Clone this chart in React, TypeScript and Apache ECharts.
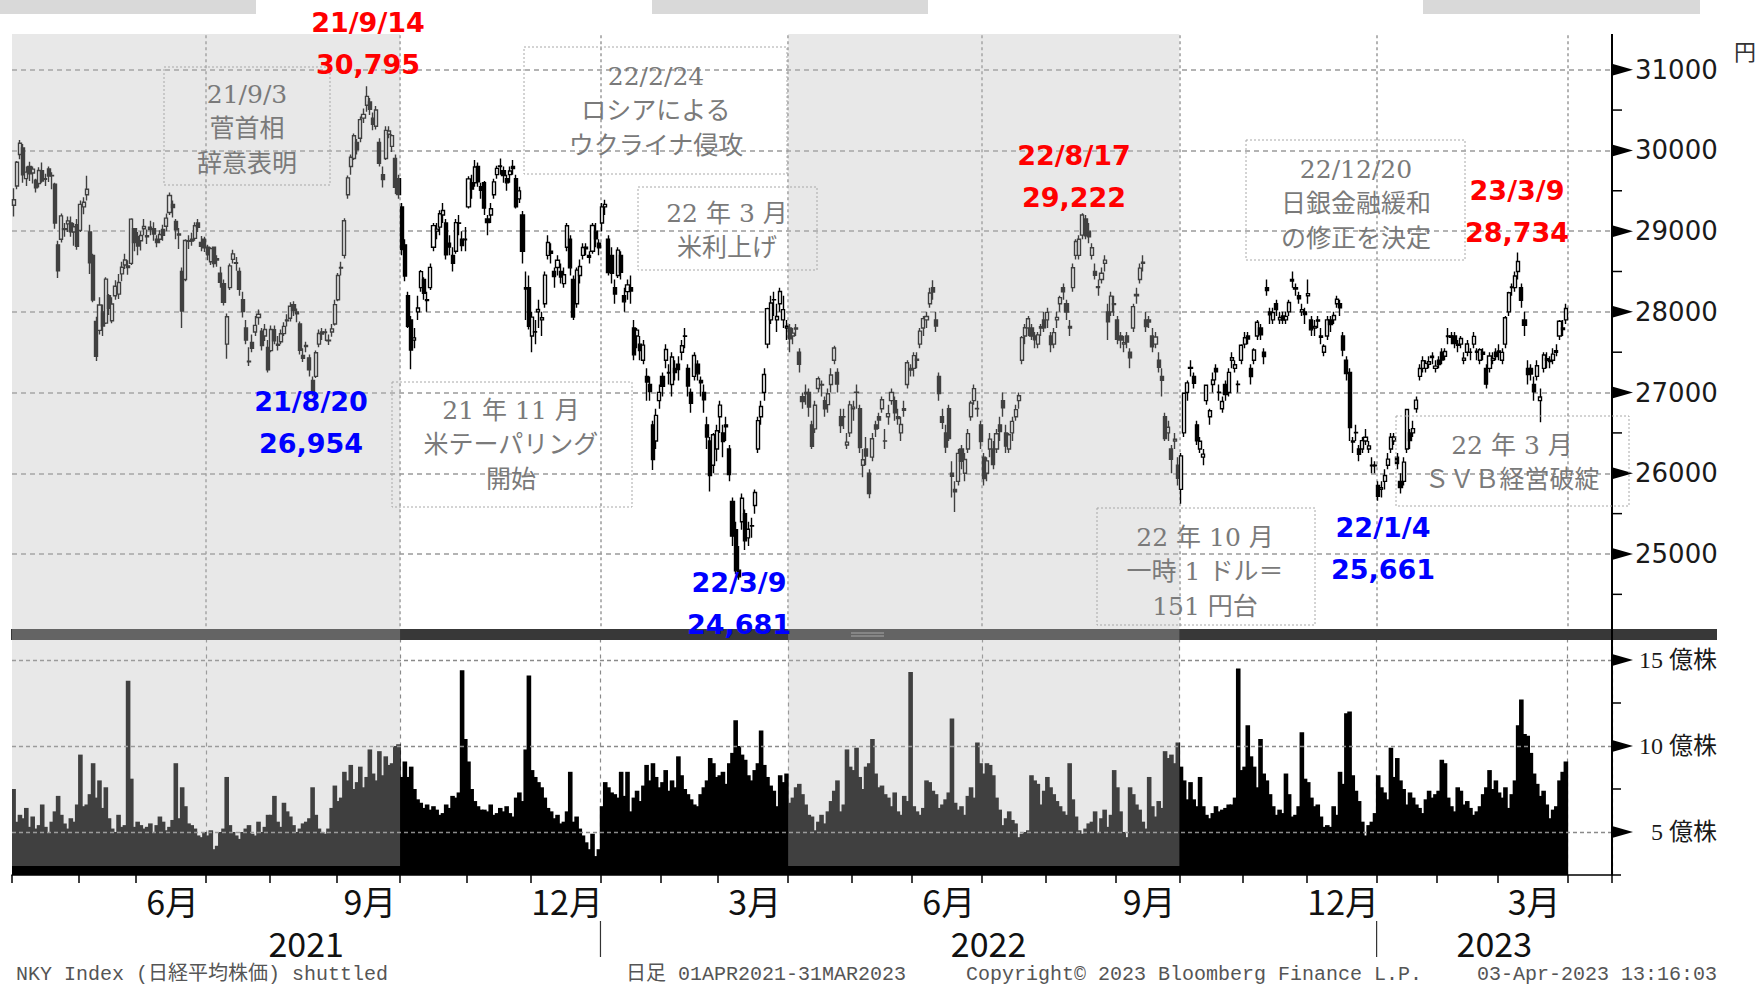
import React, { useEffect, useRef } from 'react';
import * as echarts from 'echarts';

// TSE holidays falling on weekdays (Apr 2021 - Mar 2023)
const HOLIDAYS = [
  '2021-04-29', '2021-05-03', '2021-05-04', '2021-05-05', '2021-07-22', '2021-07-23', '2021-08-09',
  '2021-09-20', '2021-09-23', '2021-11-03', '2021-11-23', '2021-12-31', '2022-01-03', '2022-01-10',
  '2022-02-11', '2022-02-23', '2022-03-21', '2022-04-29', '2022-05-03', '2022-05-04', '2022-05-05',
  '2022-07-18', '2022-08-11', '2022-09-19', '2022-09-23', '2022-10-10', '2022-11-03', '2022-11-23',
  '2023-01-02', '2023-01-03', '2023-01-09', '2023-02-23', '2023-03-21',
];

// Daily candles per month: [open, close, low, high] (yen)
const c2104 = [[29320,29388,29180,29530],[29560,29854,29520,29870],[29950,30089,29890,30130],[30030,29697,29600,30080],[29650,29731,29560,29800],[29800,29709,29620,29860],[29720,29768,29590,29800],[29630,29538,29480,29650],[29590,29752,29540,29790],[29750,29621,29600,29850],[29650,29643,29560,29710],[29770,29683,29610,29800],[29690,29686,29520,29730],[29580,29101,29030,29600],[28830,28509,28420,28880],[28900,29189,28860,29220],[29030,29021,28930,29100],[29090,29127,28990,29180],[29100,28992,28930,29180],[28990,29054,28820,29100],[29080,28813,28770,29150]];
const c2105 = [[29010,29331,28990,29380],[29300,29358,29210,29420],[29450,29518,29380,29685],[28990,28608,28470,29080],[28700,28147,28120,28720],[27880,27448,27390,27940],[27770,28084,27720,28180],[28000,27824,27700,28090],[27860,28406,27850,28430],[28200,28044,27960,28220],[27890,28098,27860,28180],[28200,28317,28150,28390],[28220,28364,28160,28470],[28470,28553,28380,28620],[28580,28642,28530,28720],[28570,28549,28460,28640],[28600,29149,28580,29160],[29030,28860,28750,29040]];
const c2106 = [[28930,28815,28700,28990],[28880,28946,28760,29000],[29030,29058,28950,29150],[28930,28942,28840,29020],[29050,29019,28950,29130],[29030,28964,28880,29110],[28900,28860,28800,28950],[28900,28958,28850,29010],[29020,28949,28880,29080],[29060,29161,29000,29220],[29230,29441,29200,29480],[29330,29292,29170,29380],[29120,29018,28900,29150],[28950,28964,28780,29040],[28500,28010,27800,28550],[28400,28884,28380,28900],[28880,28874,28780,28950],[28900,28876,28820,28980],[28910,29066,28880,29110],[29100,29048,28990,29150],[28860,28812,28750,28940],[28900,28792,28740,28930]];
const c2107 = [[28800,28707,28640,28830],[28620,28783,28580,28800],[28800,28598,28550,28810],[28660,28643,28560,28700],[28480,28366,28300,28560],[28350,28118,28080,28400],[27600,27940,27420,27980],[28300,28569,28270,28600],[28650,28718,28600,28770],[28600,28608,28510,28680],[28500,28279,28200,28550],[28150,28003,27930,28250],[27800,27652,27600,27900],[27380,27388,27330,27560],[27620,27548,27500,27720],[27750,27833,27700,27950],[27930,27970,27840,28030],[27760,27581,27520,27800],[27700,27782,27640,27850],[27560,27283,27250,27650]];
const c2108 = [[27520,27781,27500,27830],[27780,27642,27600,27830],[27600,27584,27520,27700],[27630,27728,27600,27780],[27730,27820,27700,27870],[27900,27888,27820,27970],[27920,28070,27880,28120],[28090,28015,27950,28130],[28000,27977,27870,28040],[27850,27523,27470,27880],[27460,27424,27380,27550],[27570,27585,27500,27630],[27430,27281,27200,27470],[27150,27013,26954,27200],[27200,27494,27180,27520],[27600,27732,27560,27780],[27750,27724,27650,27800],[27750,27742,27640,27790],[27650,27641,27590,27720],[27750,27789,27690,27850],[27850,28089,27830,28150]];
const c2109 = [[28150,28451,28130,28480],[28550,28543,28450,28620],[28700,29128,28660,29160],[29450,29660,29400,29690],[29800,29916,29700,29950],[29900,30181,29880,30210],[30100,30008,29950,30140],[30150,30381,30100,30420],[30400,30447,30340,30520],[30560,30670,30480,30795],[30600,30511,30440,30650],[30400,30323,30250,30470],[30300,30500,30260,30550],[30100,29840,29800,30150],[29700,29639,29540,29800],[29900,30248,29880,30300],[30200,30240,30150,30300],[30050,30183,29980,30200],[29900,29544,29460,29950],[29650,29452,29400,29700]];
const c2110 = [[29300,28771,28700,29350],[28830,28444,28380,28900],[28200,27822,27800,28250],[27900,27528,27290,27950],[27650,27678,27550,27800],[28000,28048,27900,28200],[28300,28498,28250,28520],[28400,28230,28150,28430],[28150,28140,28000,28250],[28300,28551,28270,28600],[28800,29068,28750,29100],[29000,29025,28900,29100],[29050,29215,28950,29260],[29200,29255,29100,29350],[29100,28708,28650,29150],[28850,28804,28700,28950],[28700,28600,28500,28800],[28750,29106,28720,29150],[29100,29098,28950,29200],[28900,28820,28750,29000],[28900,28892,28750,29050]];
const c2111 = [[29300,29647,29280,29680],[29600,29520,29400,29700],[29600,29794,29550,29880],[29800,29611,29550,29850],[29550,29507,29400,29600],[29600,29285,29200,29620],[29150,29106,28950,29200],[29200,29278,29100,29350],[29450,29610,29400,29650],[29700,29777,29650,29810],[29800,29808,29700,29900],[29750,29688,29600,29800],[29650,29598,29500,29700],[29700,29745,29600,29800],[29800,29774,29700,29880],[29650,29302,29280,29700],[29400,29499,29350,29550],[29200,28751,28600,29250],[28300,28283,27900,28500],[28300,27822,27780,28450]];
const c2112 = [[27700,27935,27500,28000],[27750,27753,27600,27900],[28000,28029,27800,28150],[27900,27927,27700,28000],[28100,28455,28050,28500],[28700,28860,28650,28950],[28750,28725,28600,28850],[28500,28437,28300,28550],[28550,28640,28450,28700],[28500,28432,28350,28600],[28350,28459,28300,28550],[28800,29066,28750,29100],[28900,28545,28450,28950],[28400,27937,27900,28450],[28100,28517,28050,28550],[28450,28562,28350,28650],[28700,28798,28650,28850],[28800,28782,28700,28850],[28700,28676,28600,28750],[28750,29069,28720,29100],[29000,28906,28800,29100],[28850,28792,28700,28900]];
const c2201 = [[29100,29301,29000,29350],[29300,29332,29200,29390],[28900,28487,28450,28950],[28700,28479,28350,28800],[28300,28222,28100,28400],[28450,28765,28420,28800],[28700,28489,28400,28750],[28200,28124,28000,28300],[28250,28334,28150,28400],[28300,28257,28100,28450],[27800,27467,27400,27900],[27700,27773,27550,27800],[27600,27522,27400,27700],[27400,27588,27350,27650],[27200,27131,26900,27300],[27100,27011,26900,27200],[26600,26170,26040,26650],[26400,26717,26300,26800],[26900,27002,26800,27100]];
const c2202 = [[27200,27078,26950,27250],[27400,27533,27300,27600],[27250,27241,27100,27350],[27100,27440,26950,27500],[27300,27249,27150,27400],[27350,27284,27150,27450],[27500,27580,27400,27650],[27700,27696,27550,27800],[27300,27080,26950,27350],[27000,26866,26750,27050],[27200,27460,27150,27500],[27350,27232,27150,27400],[27150,27122,26950,27200],[27000,26911,26750,27100],[26600,26450,26300,26700],[26400,25971,25775,26450],[26100,26477,26000,26500],[26300,26527,26150,26600]];
const c2203 = [[26700,26844,26500,26900],[26500,26393,26200,26600],[26600,26577,26400,26700],[26300,25985,25900,26350],[25650,25221,25100,25700],[25300,24791,24750,25400],[24800,24717,24681,25100],[25400,25690,25300,25750],[25500,25163,25050,25550],[25200,25307,25100,25400],[25350,25346,25200,25450],[25600,25762,25500,25800],[26300,26652,26250,26700],[26700,26827,26600,26900],[27000,27224,26900,27300],[27600,28040,27550,28050],[27900,28110,27850,28200],[28150,28149,27950,28250],[27900,27943,27750,28100],[28100,28252,28000,28300],[27900,28027,27800,28200],[27800,27821,27650,27900]];
const c2204 = [[27800,27666,27500,27850],[27700,27736,27600,27800],[27800,27787,27700,27850],[27500,27350,27250,27550],[26950,26889,26800,27000],[27000,26985,26850,27100],[27000,26821,26700,27050],[26600,26335,26300,26650],[26550,26843,26500,26900],[27050,27172,27000,27200],[27100,27093,26950,27150],[26900,26800,26700,26950],[26850,26985,26750,27050],[27100,27218,27000,27300],[27400,27553,27350,27580],[27250,27105,27000,27300],[26700,26590,26500,26800],[26700,26700,26550,26800],[26350,26386,26300,26500],[26500,26848,26450,26900]];
const c2205 = [[26800,26819,26650,26900],[27000,27003,26800,27100],[26800,26319,26250,26850],[26100,26167,25950,26300],[26300,26213,26100,26450],[26000,25748,25690,26050],[26200,26427,26150,26500],[26600,26547,26450,26650],[26700,26659,26550,26750],[26800,26911,26750,26950],[26400,26402,26300,26550],[26700,26739,26600,26850],[26900,27001,26850,27050],[26900,26748,26650,26950],[26700,26677,26600,26800],[26500,26604,26400,26700],[26800,26781,26700,26900],[27100,27369,27050,27400],[27300,27279,27200,27350]];
const c2206 = [[27300,27457,27200,27500],[27400,27413,27300,27500],[27600,27761,27550,27800],[27800,27916,27700,27950],[27900,27943,27800,28000],[28100,28234,28050,28300],[28300,28246,28150,28390],[27900,27824,27750,28000],[27200,26987,26900,27250],[26700,26630,26550,26800],[26500,26326,26250,26600],[26800,26431,26400,26850],[26000,25963,25700,26150],[25800,25771,25520,25900],[25900,26246,25850,26300],[26300,26149,26050,26350],[26000,26171,25900,26250],[26300,26491,26250,26550],[26700,26871,26650,26900],[26900,27049,26850,27100],[26800,26804,26700,26900],[26600,26393,26300,26650]];
const c2207 = [[26200,25935,25850,26250],[26000,26153,25900,26200],[26300,26423,26200,26500],[26300,26107,26050,26400],[26300,26490,26250,26550],[26600,26517,26400,26700],[26900,26812,26700,27000],[26500,26336,26250,26600],[26300,26478,26250,26500],[26500,26643,26400,26700],[26700,26788,26650,26850],[26900,26961,26800,27000],[27400,27680,27350,27700],[27700,27803,27600,27850],[27800,27915,27700,27950],[27800,27699,27650,27850],[27700,27655,27550,27750],[27600,27715,27550,27750],[27800,27815,27700,27850],[27900,27801,27750,28000]];
const c2208 = [[27900,27993,27800,28050],[27700,27594,27500,27750],[27600,27742,27550,27800],[27900,27932,27800,28000],[28100,28176,28000,28200],[28300,28249,28150,28350],[28100,27999,27900,28150],[27800,27819,27700,27900],[28300,28547,28250,28600],[28700,28872,28650,28900],[28700,28900,28650,28950],[28950,29200,28900,29222],[29150,28942,28900,29200],[29000,28930,28850,29100],[28700,28794,28650,28850],[28500,28452,28400,28600],[28300,28313,28200,28400],[28400,28479,28350,28550],[28600,28641,28500,28700],[28000,27878,27650,28100],[28000,28195,27950,28250],[28100,28091,27950,28200]];
const c2209 = [[27900,27661,27600,27950],[27700,27650,27550,27750],[27600,27619,27500,27700],[27700,27626,27550,27750],[27500,27430,27300,27550],[27800,28065,27750,28100],[28200,28214,28100,28300],[28400,28542,28350,28600],[28600,28614,28500,28700],[27900,27818,27750,28000],[27900,27875,27800,27950],[27700,27567,27500,27800],[27600,27688,27550,27750],[27400,27313,27250,27500],[27200,27153,26950,27300],[26700,26431,26400,26750],[26500,26571,26400,26650],[26300,26173,26000,26350],[26400,26422,26300,26500],[26100,25937,25850,26200]];
const c2210 = [[25800,26215,25621,26250],[26500,26992,26450,27000],[27000,27120,26900,27150],[27300,27311,27200,27400],[27200,27116,27050,27250],[26600,26401,26350,26650],[26300,26397,26250,26450],[26200,26237,26100,26300],[26900,27090,26850,27100],[26700,26775,26600,26800],[27100,27156,27000,27250],[27300,27257,27150,27350],[27000,27006,26900,27100],[26800,26890,26750,26950],[27100,26974,26900,27150],[27000,27250,26950,27300],[27400,27431,27300,27500],[27300,27345,27250,27400],[27100,27105,27000,27150],[27400,27587,27350,27600]];
const c2211 = [[27600,27679,27550,27750],[27700,27663,27600,27750],[27300,27199,27100,27350],[27400,27527,27350,27550],[27700,27872,27650,27900],[27800,27716,27650,27850],[27500,27446,27350,27550],[28300,28264,28200,28400],[28000,27963,27850,28050],[27900,27990,27850,28050],[28100,28028,27950,28150],[27900,27930,27850,28000],[27950,27899,27850,28000],[27900,27944,27850,28000],[28000,28115,27950,28150],[28400,28383,28300,28500],[28300,28283,28200,28350],[28200,28162,28100,28250],[28000,28027,27950,28100],[28000,27968,27850,28050]];
const c2212 = [[28200,28226,28100,28400],[27900,27777,27700,27950],[27800,27820,27700,27900],[27900,27885,27800,27950],[27700,27686,27600,27800],[27500,27574,27450,27600],[27700,27901,27650,27950],[27900,27842,27750,27950],[27900,27954,27850,28000],[28100,28156,28050,28200],[28100,28051,27950,28150],[27700,27527,27450,27750],[27400,27237,27150,27450],[27250,26568,26400,27300],[26400,26387,26250,26450],[26500,26507,26400,26600],[26300,26235,26150,26350],[26300,26405,26250,26450],[26400,26447,26350,26550],[26300,26340,26250,26400],[26100,26093,26000,26200],[26100,26094,26000,26150]];
const c2301 = [[25850,25716,25661,25900],[25800,25820,25700,25900],[25900,25973,25800,26050],[26100,26175,26050,26250],[26300,26446,26250,26500],[26400,26449,26350,26500],[26200,26119,26050,26250],[25900,25822,25750,26000],[25900,26138,25850,26200],[26300,26791,26250,26800],[26500,26405,26300,26550],[26500,26553,26450,26650],[26800,26906,26750,26950],[27200,27299,27150,27350],[27300,27395,27250,27450],[27300,27362,27250,27400],[27350,27382,27300,27450],[27450,27433,27350,27500],[27300,27327,27250,27400]];
const c2302 = [[27400,27346,27300,27450],[27500,27402,27350,27550],[27450,27509,27400,27550],[27700,27694,27600,27800],[27700,27685,27600,27750],[27700,27606,27550,27750],[27600,27584,27500,27650],[27600,27670,27550,27700],[27400,27427,27350,27500],[27500,27602,27450,27650],[27500,27501,27400,27550],[27600,27696,27550,27750],[27500,27513,27400,27550],[27400,27531,27350,27550],[27500,27473,27400,27550],[27300,27104,27050,27350],[27300,27453,27250,27500],[27400,27423,27350,27500],[27500,27445,27400,27550]];
const c2303 = [[27500,27516,27400,27600],[27400,27498,27350,27550],[27600,27927,27550,27950],[28000,28237,27950,28250],[28300,28309,28200,28350],[28300,28444,28250,28500],[28500,28623,28400,28734],[28300,28143,28050,28350],[27900,27832,27700,28000],[27300,27222,27100,27400],[27300,27229,27150,27350],[27100,27010,26900,27200],[27200,27333,27150,27400],[26900,26945,26632,27050],[27300,27466,27250,27500],[27400,27419,27300,27500],[27400,27385,27300,27450],[27400,27476,27350,27550],[27500,27518,27450,27600],[27700,27883,27650,27900],[27800,27782,27700,27900],[27900,28041,27850,28100]];

// Daily volume per month (億株)
const v2104 = [7.5,5.6,6.0,5.8,6.4,5.3,5.9,5.2,5.4,6.6,5.3,5.0,5.6,6.2,7.1,6.0,5.5,5.2,5.8,5.6,6.6];
const v2105 = [9.5,6.5,6.6,7.2,9.0,7.0,8.0,6.4,7.6,5.8,5.2,5.0,6.0,5.3,5.4,13.8,8.1,5.3];
const v2106 = [5.6,5.4,5.2,5.3,5.5,5.0,5.4,5.9,5.6,5.1,5.3,5.7,9.0,5.8,7.6,6.5,5.5,5.4,5.2,4.8,4.7,5.0];
const v2107 = [4.8,5.1,4.0,4.2,5.0,5.2,8.2,5.4,5.0,4.8,4.6,5.0,5.2,5.4,4.9,4.8,5.6,5.0,5.3,6.0];
const v2108 = [6.0,7.1,5.6,5.3,6.7,6.2,5.9,5.4,5.0,5.2,5.5,5.6,5.8,7.6,6.0,5.2,5.0,4.9,5.2,6.4,7.7];
const v2109 = [6.8,7.0,8.5,8.0,8.9,7.5,7.9,8.8,7.6,8.2,9.8,8.4,8.0,9.7,8.3,9.4,8.9,9.0,10.0,10.1];
const v2110 = [8.2,9.1,8.2,8.8,7.5,6.9,6.7,6.4,6.6,6.3,6.5,6.3,6.0,6.1,6.6,6.4,7.1,7.0,7.3,14.4,10.4];
const v2111 = [9.1,7.5,6.8,6.5,6.3,6.3,6.2,6.6,6.0,6.1,6.4,6.2,6.5,6.1,5.9,7.0,7.3,6.8,9.8,14.1];
const v2112 = [8.6,8.2,7.9,7.6,7.0,6.4,6.2,5.8,6.0,5.5,5.6,6.2,8.5,5.6,5.9,5.2,4.8,4.4,4.0,4.9,3.6,4.0];
const v2201 = [6.5,7.9,7.6,7.3,7.2,7.0,8.5,7.1,8.5,6.2,7.0,7.4,6.8,7.7,8.9,8.0,9.0,8.2,7.6];
const v2202 = [7.9,8.6,7.4,8.0,7.6,9.4,8.3,7.5,7.2,6.9,6.6,6.5,7.2,7.6,8.0,9.3,9.0,8.2];
const v2203 = [8.3,8.5,7.8,9.0,9.6,11.5,10.0,9.5,9.2,8.3,8.0,8.6,9.0,10.9,8.9,8.2,7.7,7.4,6.5,8.3,7.9,8.4];
const v2204 = [6.7,7.0,7.6,7.8,7.2,6.6,6.0,5.9,5.1,5.6,6.0,5.5,6.2,6.8,7.4,8.0,6.2,6.6,9.8,8.8];
const v2205 = [8.6,9.9,8.2,7.5,8.8,9.0,10.4,8.4,7.6,7.7,7.2,7.0,6.5,7.3,6.2,6.0,7.1,6.8,14.3];
const v2206 = [6.5,6.2,6.0,6.4,8.0,7.9,7.4,7.2,6.4,6.6,6.9,7.3,11.6,6.7,6.3,6.5,6.0,7.1,7.6,7.0,10.2,9.0];
const v2207 = [8.4,9.0,8.9,8.3,7.0,6.3,5.4,5.8,6.2,5.7,5.5,4.7,4.9,5.0,5.1,8.3,8.0,7.8,6.6,7.4];
const v2208 = [8.2,7.6,7.2,6.8,6.5,6.2,6.0,9.0,6.9,5.9,5.1,4.9,5.2,5.5,5.6,6.2,5.0,5.8,6.3,5.3,6.0,8.6];
const v2209 = [7.6,6.2,5.0,4.7,7.6,7.2,6.6,6.3,5.6,5.2,8.2,6.5,5.9,6.8,6.4,9.7,9.3,9.5,9.0,10.2];
const v2210 = [8.8,8.0,6.9,7.9,6.9,6.5,8.2,6.5,6.0,5.8,6.1,6.5,6.2,6.3,6.4,6.6,6.6,7.0,14.5,8.6];
const v2211 = [8.8,11.2,9.4,8.8,7.6,10.4,8.4,8.0,7.2,6.5,6.0,6.3,6.1,8.4,7.2,5.9,6.0,6.5,10.8,8.1];
const v2212 = [7.9,7.0,6.5,6.6,5.9,5.3,5.4,5.3,6.5,6.0,8.5,7.8,11.9,12.0,8.3,7.4,6.8,5.6,4.8,5.4,5.6,6.1];
const v2301 = [8.3,7.6,7.3,6.9,9.9,8.2,9.3,8.0,7.5,6.6,7.3,7.0,6.6,6.4,6.1,6.9,7.4,7.0,7.2];
const v2302 = [7.4,9.2,9.0,7.0,6.5,6.2,7.6,7.4,6.6,6.8,6.4,6.0,6.2,6.5,7.2,7.6,8.6,7.5,8.0];
const v2303 = [7.3,7.0,7.6,6.4,7.2,8.0,11.2,12.7,10.7,10.6,9.6,8.4,7.8,7.1,7.4,6.6,5.8,6.3,6.5,8.0,8.5,9.1];

const CANDLE_MONTHS = [c2104,c2105,c2106,c2107,c2108,c2109,c2110,c2111,c2112,c2201,c2202,c2203,c2204,c2205,c2206,c2207,c2208,c2209,c2210,c2211,c2212,c2301,c2302,c2303];
const VOLUME_MONTHS = [v2104,v2105,v2106,v2107,v2108,v2109,v2110,v2111,v2112,v2201,v2202,v2203,v2204,v2205,v2206,v2207,v2208,v2209,v2210,v2211,v2212,v2301,v2302,v2303];

// Axis tick labels
const PRICE_LABELS = [25000, 26000, 27000, 28000, 29000, 30000, 31000];
const PRICE_MINOR = [24500, 25500, 26500, 27500, 28500, 29500, 30500];
const VOLUME_LABELS = [5, 10, 15];

// Highlight labels (date, value)
const HIGHLIGHTS = [
  { date: '21/9/14', value: '30,795', color: '#ff0000', x: 368, y: 22 },
  { date: '21/8/20', value: '26,954', color: '#0000ff', x: 311, y: 401 },
  { date: '22/3/9', value: '24,681', color: '#0000ff', x: 739, y: 582 },
  { date: '22/8/17', value: '29,222', color: '#ff0000', x: 1074, y: 155 },
  { date: '22/1/4', value: '25,661', color: '#0000ff', x: 1383, y: 527 },
  { date: '23/3/9', value: '28,734', color: '#ff0000', x: 1517, y: 190 },
];

const NOTES = [
  { lines: ['21/9/3', '菅首相', '辞意表明'], box: [164, 67, 166, 118], cx: 247, y0: 94 },
  { lines: ['22/2/24', 'ロシアによる', 'ウクライナ侵攻'], box: [524, 47, 263, 127], cx: 656, y0: 76 },
  { lines: ['22 年 3 月', '米利上げ'], box: [638, 187, 179, 83], cx: 727, y0: 213 },
  { lines: ['21 年 11 月', '米テーパリング', '開始'], box: [392, 382, 240, 125], cx: 511, y0: 410 },
  { lines: ['22/12/20', '日銀金融緩和', 'の修正を決定'], box: [1246, 140, 219, 120], cx: 1356, y0: 169 },
  { lines: ['22 年 10 月', '一時 1 ドル＝', '151 円台'], box: [1097, 508, 218, 117], cx: 1205, y0: 537 },
  { lines: ['22 年 3 月', 'ＳＶＢ経営破綻'], box: [1396, 416, 233, 90], cx: 1512, y0: 445 },
];

function buildDates(): string[] {
  const out: string[] = [];
  const hol = new Set(HOLIDAYS);
  const d = new Date(Date.UTC(2021, 3, 1));
  const end = Date.UTC(2023, 2, 31);
  while (d.getTime() <= end) {
    const wd = d.getUTCDay();
    const s = d.toISOString().slice(0, 10);
    if (wd !== 0 && wd !== 6 && !hol.has(s)) out.push(s);
    d.setUTCDate(d.getUTCDate() + 1);
  }
  return out;
}

const SERIF_JP = "'DejaVu Serif', 'Noto Sans CJK JP', serif";
const VOL_FONT = "'Liberation Serif', 'Noto Sans CJK JP', serif";
const NARROW = "'Liberation Sans Narrow', 'Noto Sans CJK JP', sans-serif";
const MONO = "'Liberation Mono', 'Noto Sans CJK JP', monospace";

export default function App() {
  const ref = useRef<HTMLDivElement>(null);

  useEffect(() => {
    const chart = echarts.init(ref.current!, null, { renderer: 'svg' });
    const dates = buildDates();
    const PAD = 14;
    const cats = [...dates, ...Array.from({ length: PAD }, (_, k) => `pad${k}`)];
    const monthKey = (i: number) => (i < dates.length ? dates[i].slice(0, 7) : '2023-04');
    const monthStart = cats.map((_, i) => i === 0 || monthKey(i) !== monthKey(i - 1));
    const quarterStart = cats.map(
      (_, i) => i > 0 && monthStart[i] && ['01', '04', '07', '10'].includes(monthKey(i).slice(5))
    );
    const labelAt: Record<number, string> = {};
    let s = 0;
    for (let i = 1; i <= dates.length; i++) {
      if (i === dates.length || monthKey(i) !== monthKey(s)) {
        const m = parseInt(monthKey(s).slice(5), 10);
        if ([3, 6, 9, 12].includes(m)) labelAt[s + Math.floor((i - s) / 2)] = `${m}月`;
        s = i;
      }
    }
    const candles = CANDLE_MONTHS.flat();
    const volumes = VOLUME_MONTHS.flat();

    chart.setOption({
      animation: false,
      backgroundColor: '#ffffff',
      grid: [
        { left: 12, right: 150, top: 29.35, height: 605.35 },
        { left: 12, right: 150, top: 638.5, height: 236.5 },
      ],
      xAxis: [
        {
          gridIndex: 0, type: 'category', data: cats, boundaryGap: true,
          axisLine: { show: false }, axisTick: { show: false }, axisLabel: { show: false },
          splitLine: { show: true, interval: (i: number) => quarterStart[i], lineStyle: { color: '#9a9a9a', type: [3, 3], width: 1.5 } },
        },
        {
          gridIndex: 1, type: 'category', data: cats, boundaryGap: true,
          axisLine: { show: true, lineStyle: { color: '#000', width: 1.5 } },
          axisTick: { show: true, interval: (i: number) => monthStart[i], length: 8, lineStyle: { color: '#000', width: 1.5 } },
          axisLabel: {
            show: true, interval: (i: number) => !!labelAt[i], formatter: (_v: string, i: number) => labelAt[i] || '',
            margin: 8, fontSize: 34, lineHeight: 34, fontFamily: NARROW, color: '#111',
          },
          splitLine: { show: true, interval: (i: number) => quarterStart[i], lineStyle: { color: '#8a8a8a', type: [4, 4], width: 1.2 } },
        },
      ],
      yAxis: [
        {
          gridIndex: 0, type: 'value', position: 'right', min: 24000, max: 31500, interval: 1000,
          axisLine: { show: false },
          axisTick: { show: false },
          axisLabel: {
            margin: 23, fontFamily: 'DejaVu Sans', fontSize: 26, color: '#1a1a1a',
            formatter: (v: number) => (PRICE_LABELS.includes(v) ? String(v) : ''),
          },
          splitLine: { show: true, showMaxLine: false, showMinLine: false, lineStyle: { color: '#9a9a9a', type: [5, 4], width: 1.5 } },
        },
        {
          gridIndex: 1, type: 'value', position: 'right', min: 2.5, max: 16.25, interval: 2.5,
          axisLine: { show: false },
          axisTick: { show: true, length: 9, lineStyle: { color: '#000', width: 1.5 } },
          axisLabel: {
            margin: 105, align: 'right', fontFamily: VOL_FONT, fontSize: 24, color: '#1a1a1a',
            formatter: (v: number) => (VOLUME_LABELS.includes(v) ? `${v} 億株` : ''),
          },
          splitLine: { show: false },
        },
      ],
      series: [
        {
          type: 'candlestick', xAxisIndex: 0, yAxisIndex: 0, data: candles, z: 3, barWidth: 3.6,
          itemStyle: { color: '#ffffff', color0: '#000000', borderColor: '#000000', borderColor0: '#000000', borderColorDoji: '#000000', borderWidth: 1.4 },
        },
        {
          type: 'bar', xAxisIndex: 1, yAxisIndex: 1, data: volumes, z: 3, barWidth: 4.6,
          itemStyle: { color: '#000000' },
        },
        {
          type: 'line', xAxisIndex: 1, yAxisIndex: 1, data: [], z: 1, silent: true,
          markLine: {
            silent: true, symbol: ['none', 'none'], label: { show: false },
            lineStyle: { color: '#8a8a8a', type: [4, 3], width: 1.4 },
            data: VOLUME_LABELS.map((v) => ({ yAxis: v })),
          },
        },
      ],
    });

    const px = (i: number) => chart.convertToPixel({ xAxisIndex: 0 }, i) as number;
    const bw = px(1) - px(0);
    const xb = (i: number) => px(i) - bw / 2;
    const yP = (v: number) => chart.convertToPixel({ yAxisIndex: 0 }, v) as number;
    const yV = (v: number) => chart.convertToPixel({ yAxisIndex: 1 }, v) as number;
    const idxOf = (key: string) => dates.findIndex((d) => d.startsWith(key));
    const iOct21 = idxOf('2021-10');
    const iJan22 = idxOf('2022-01');
    const iApr22 = idxOf('2022-04');
    const iOct22 = idxOf('2022-10');
    const iJan23 = idxOf('2023-01');
    const axisX = xb(cats.length);

    const g: any[] = [];
    const txt = (text: string, x: number, y: number, size: number, fill: string, family: string, weight = 'normal', align = 'center', z = 200) => ({
      type: 'text', z, silent: true,
      style: { text, x, y, fill, fontSize: size, fontFamily: family, fontWeight: weight, align, verticalAlign: 'middle', textAlign: align, textVerticalAlign: 'middle' },
    });

    // cover the area above the panes
    g.push({ type: 'rect', z: 50, silent: true, shape: { x: 0, y: 0, width: 1762, height: 33 }, style: { fill: '#ffffff' } });
    // top grey bars
    [[0, 256], [652, 928], [1423, 1700]].forEach(([a, b]) =>
      g.push({ type: 'rect', z: 51, silent: true, shape: { x: a, y: 0, width: b - a, height: 14 }, style: { fill: '#d9d9d9' } })
    );
    // pane separator
    g.push({ type: 'rect', z: 90, silent: true, shape: { x: 11, y: 629, width: 1717 - 11, height: 11 }, style: { fill: '#383838' } });
    g.push({ type: 'line', z: 91, silent: true, shape: { x1: 851, y1: 633, x2: 884, y2: 633 }, style: { stroke: '#9a9a9a', lineWidth: 1 } });
    g.push({ type: 'line', z: 91, silent: true, shape: { x1: 851, y1: 636, x2: 884, y2: 636 }, style: { stroke: '#9a9a9a', lineWidth: 1 } });
    // half-year shading
    [[xb(0), xb(iOct21)], [xb(iApr22), xb(iOct22)]].forEach(([a, b]) =>
      g.push({ type: 'rect', z: 100, silent: true, shape: { x: a, y: 34, width: b - a, height: 866 - 34 }, style: { fill: 'rgba(188,188,188,0.34)' } })
    );
    // right axis line
    g.push({ type: 'line', z: 110, silent: true, shape: { x1: axisX, y1: 34, x2: axisX, y2: yV(2.5) }, style: { stroke: '#000', lineWidth: 2 } });
    // minor price ticks
    PRICE_MINOR.forEach((v) =>
      g.push({ type: 'line', z: 110, silent: true, shape: { x1: axisX, y1: yP(v), x2: axisX + 10, y2: yP(v) }, style: { stroke: '#000', lineWidth: 1.5 } })
    );
    // arrow ticks
    const arrow = (y: number) => ({
      type: 'polygon', z: 111, silent: true,
      shape: { points: [[axisX, y - 6], [axisX, y + 6], [axisX + 21, y]] }, style: { fill: '#000' },
    });
    PRICE_LABELS.forEach((v) => g.push(arrow(yP(v))));
    VOLUME_LABELS.forEach((v) => g.push(arrow(yV(v))));
    g.push(txt('円', 1745, 50, 22, '#333', "'Noto Sans CJK JP'", 'normal', 'center', 120));

    // annotation boxes
    NOTES.forEach((n) => {
      const [bx, by, bwid, bh] = n.box;
      g.push({ type: 'rect', z: 190, silent: true, shape: { x: bx, y: by, width: bwid, height: bh }, style: { fill: 'none', stroke: '#a8a8a8', lineWidth: 1, lineDash: [2, 2] } });
      n.lines.forEach((l, k) => g.push(txt(l, n.cx, n.y0 + k * 34.5, 25, '#7a7a7a', SERIF_JP)));
    });
    // highlights
    HIGHLIGHTS.forEach((h) => {
      g.push(txt(h.date, h.x, h.y, 27, h.color, 'DejaVu Sans', 'bold'));
      g.push(txt(h.value, h.x, h.y + 42, 27, h.color, 'DejaVu Sans', 'bold'));
    });
    // years
    const yY = 942;
    g.push(txt('2021', (xb(0) + xb(iJan22)) / 2, yY, 34, '#111', NARROW, 'normal', 'center', 120));
    g.push(txt('2022', (xb(iJan22) + xb(iJan23)) / 2, yY, 34, '#111', NARROW, 'normal', 'center', 120));
    g.push(txt('2023', (xb(iJan23) + axisX) / 2, yY, 34, '#111', NARROW, 'normal', 'center', 120));
    [iJan22, iJan23].forEach((i) =>
      g.push({ type: 'line', z: 120, silent: true, shape: { x1: xb(i), y1: 921, x2: xb(i), y2: 957 }, style: { stroke: '#333', lineWidth: 1.2 } })
    );
    // footer
    g.push(txt('NKY Index (日経平均株価) shuttled', 16, 974, 20, '#555', MONO, 'normal', 'left', 120));
    g.push(txt('日足 01APR2021-31MAR2023', 626, 974, 20, '#555', MONO, 'normal', 'left', 120));
    g.push(txt('Copyright© 2023 Bloomberg Finance L.P.', 966, 974, 20, '#555', MONO, 'normal', 'left', 120));
    g.push(txt('03-Apr-2023 13:16:03', 1717, 974, 20, '#555', MONO, 'normal', 'right', 120));

    chart.setOption({ graphic: g });

    return () => chart.dispose();
  }, []);

  return <div ref={ref} style={{ position: 'fixed', left: 0, top: 0, width: 1762, height: 985, background: '#fff' }} />;
}
